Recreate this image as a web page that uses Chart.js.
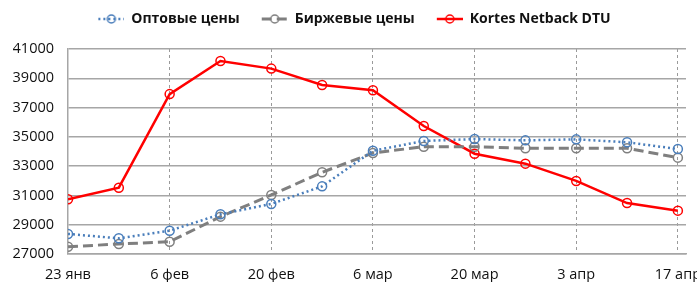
<!DOCTYPE html>
<html>
<head>
<meta charset="utf-8">
<script src="https://cdn.jsdelivr.net/npm/chart.js@4"></script>
<style>
    html, body { margin: 0; padding: 0; overflow: hidden; background: #fff; }
    #wrap { position: relative; width: 720px; height: 282px; }
</style>
</head>
<body>
<div id="wrap"><canvas id="chart"></canvas></div>
<script>

const dates = [ '23 янв', '30 янв', '6 фев', '13 фев', '20 фев', '27 фев', '6 мар',
    '13 мар', '20 мар', '27 мар', '3 апр', '10 апр', '17 апр' ];
const tickLabels = [ '23 янв', '6 фев', '20 фев', '6 мар', '20 мар', '3 апр', '17 апр' ];

const wholesale = [ 28370, 28070, 28590, 29710, 30420, 31620, 34050, 34720, 34850, 34760, 34830, 34630, 34170 ];
const exchange  = [ 27500, 27680, 27840, 29550, 31030, 32580, 33900, 34330, 34330, 34220, 34220, 34220, 33580 ];
const kortes    = [ 30740, 31530, 37920, 40180, 39660, 38540, 38180, 35740, 33850, 33170, 31990, 30480, 29960 ];

const yMin = 27000, yMax = 41000, yStep = 2000;

const series = [
    { label: 'Оптовые цены', values: wholesale, color: '#4a7ebb', dash: [ 2, 3 ], width: 2.5 },
    { label: 'Биржевые цены', values: exchange, color: '#7f7f7f', dash: [ 10, 5 ], width: 3 },
    { label: 'Kortes Netback DTU', values: kortes, color: '#ff0000', dash: [], width: 2.5 }
];

// legend icon: short line with a hollow circle, drawn at the right of a wider canvas
function legendIcon ( s ) {
    const c = document.createElement( 'canvas' );
    c.width = 36; c.height = 12;
    const g = c.getContext( '2d' );
    g.strokeStyle = s.color;
    g.lineWidth = s.width;
    g.setLineDash( s.dash );
    g.beginPath(); g.moveTo( 10, 6 ); g.lineTo( 36, 6 ); g.stroke();
    g.setLineDash( [] );
    g.lineWidth = 1.5;
    g.beginPath(); g.arc( 23, 6, 4, 0, Math.PI * 2 ); g.stroke();
    return c;
}

const icons = series.map( legendIcon );

// extra room between the legend and the plot
const legendGap = {
    id: 'legendGap',
    beforeInit ( chart ) {
        const fit = chart.legend.fit;
        chart.legend.fit = function () {
            fit.call( this );
            this.height += 13;
        };
    }
};

Chart.defaults.font.family = '"Open Sans", sans-serif';
Chart.defaults.color = '#111';

new Chart( document.getElementById( 'chart' ), {
    type: 'line',
    data: {
        datasets: series.map( s => ( {
            label: s.label,
            data: s.values.map( ( v, i ) => ( { x: i, y: v } ) ),
            borderColor: s.color,
            borderWidth: s.width,
            borderDash: s.dash,
            pointStyle: 'circle',
            pointRadius: 4.5,
            pointBorderWidth: 1.5,
            pointBorderColor: s.color,
            pointBackgroundColor: 'rgba(0,0,0,0)',
            tension: 0,
            fill: false
        } ) )
    },
    plugins: [ legendGap ],
    options: {
        responsive: true,
        maintainAspectRatio: false,
        animation: false,
        layout: { padding: { left: 13, right: 34, top: 0, bottom: 0 } },
        plugins: {
            tooltip: { enabled: false },
            legend: {
                position: 'top',
                labels: {
                    usePointStyle: true,
                    pointStyleWidth: 36,
                    padding: 12,
                    color: '#111',
                    font: { size: 14, weight: 'bold' },
                    generateLabels: chart => Chart.defaults.plugins.legend.labels.generateLabels( chart )
                        .map( ( item, i ) => Object.assign( item, { pointStyle: icons[ i ] } ) )
                }
            }
        },
        scales: {
            x: {
                type: 'linear',
                min: 0,
                max: 12.16,
                afterBuildTicks: axis => { axis.ticks = tickLabels.map( ( _, i ) => ( { value: i * 2 } ) ); },
                afterFit: axis => { axis.height = 28; },
                ticks: {
                    padding: 12,
                    maxRotation: 0,
                    font: { size: 14.5 },
                    callback: v => tickLabels[ v / 2 ]
                },
                grid: {
                    drawTicks: false,
                    color: ctx => ctx.index === 0 ? 'rgba(0,0,0,0)' : '#9a9a9a',
                    lineWidth: 1
                },
                border: { color: '#a6a6a6', width: 1.5, dash: [ 3, 3 ] }
            },
            y: {
                min: yMin,
                max: yMax,
                afterFit: axis => { axis.width = 55; },
                ticks: { stepSize: yStep, padding: 14, font: { size: 14.5 }, callback: v => String( v ) },
                grid: { drawTicks: false, color: '#a6a6a6', lineWidth: 1.5 },
                border: { color: '#a6a6a6', width: 1.5 }
            }
        }
    }
} );

</script>
</body>
</html>
